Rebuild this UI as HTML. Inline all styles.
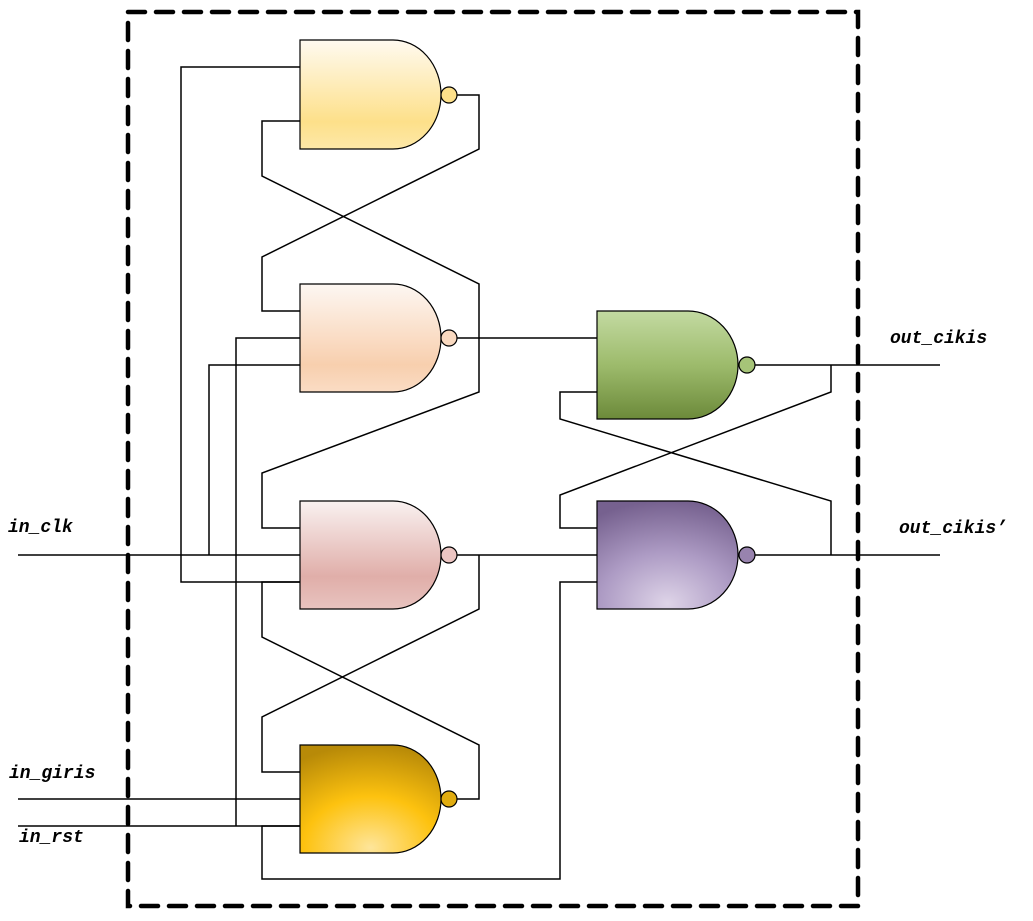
<!DOCTYPE html>
<html><head><meta charset="utf-8"><style>html,body{margin:0;padding:0;background:#fff;width:1033px;height:921px;overflow:hidden}</style></head>
<body>
<svg width="1033" height="921" viewBox="0 0 1033 921" xmlns="http://www.w3.org/2000/svg">
<defs>
<linearGradient id="g1" x1="0" y1="0" x2="0" y2="1"><stop offset="0" stop-color="#fffaf0"/><stop offset="0.75" stop-color="#fde08a"/><stop offset="1" stop-color="#fde8a8"/></linearGradient>
<linearGradient id="g2" x1="0" y1="0" x2="0" y2="1"><stop offset="0" stop-color="#fdf7f2"/><stop offset="0.75" stop-color="#f8cfae"/><stop offset="1" stop-color="#fadcc4"/></linearGradient>
<linearGradient id="g3" x1="0" y1="0" x2="0" y2="1"><stop offset="0" stop-color="#f9f1f0"/><stop offset="0.7" stop-color="#e0aea9"/><stop offset="1" stop-color="#e8c3bf"/></linearGradient>
<radialGradient id="g4" cx="0.5" cy="0.95" r="0.95" fx="0.5" fy="0.95"><stop offset="0" stop-color="#fee59a"/><stop offset="0.5" stop-color="#fdc20f"/><stop offset="1" stop-color="#b88a08"/></radialGradient>
<linearGradient id="g5" x1="0" y1="0" x2="0" y2="1"><stop offset="0" stop-color="#c3daa2"/><stop offset="0.5" stop-color="#9dbb6c"/><stop offset="1" stop-color="#6c8a3a"/></linearGradient>
<radialGradient id="g6" cx="0.5" cy="0.95" r="0.95" fx="0.5" fy="0.95"><stop offset="0" stop-color="#ded4e8"/><stop offset="0.5" stop-color="#ad9bc4"/><stop offset="1" stop-color="#76618f"/></radialGradient>
</defs>
<g fill="none" stroke="#000" stroke-width="1.5" stroke-linejoin="miter">
<!-- gate1 wiring -->
<polyline points="300,67 181,67 181,582 300,582"/>
<polyline points="300,121 262,121 262,176 479,284 479,392 262,473 262,528 300,528"/>
<polyline points="457,95 479,95 479,149 262,257 262,311 300,311"/>
<polyline points="457,338 597,338"/>
<polyline points="300,338 236,338 236,826"/>
<polyline points="300,365 209,365 209,555"/>
<polyline points="18,555 300,555"/>
<polyline points="457,555 597,555"/>
<polyline points="479,555 479,609 262,717 262,772 300,772"/>
<polyline points="300,582 262,582 262,637 479,745 479,799 457,799"/>
<polyline points="18,799 300,799"/>
<polyline points="18,826 300,826"/>
<polyline points="300,826 262,826 262,879 560,879 560,582 597,582"/>
<polyline points="597,528 560,528 560,495 831,392 831,365"/>
<polyline points="597,392 560,392 560,419 831,501 831,555"/>
<polyline points="755,365 940,365"/>
<polyline points="755,555 940,555"/>
</g>
<g stroke="#000" stroke-width="1.2">
<path d="M300,40 H393 A48,54.5 0 0 1 393,149 H300 Z" fill="url(#g1)"/>
<circle cx="449" cy="95" r="8" fill="#fde08a"/>
<path d="M300,284 H393 A48,54 0 0 1 393,392 H300 Z" fill="url(#g2)"/>
<circle cx="449" cy="338" r="8" fill="#f9d9c0"/>
<path d="M300,501 H393 A48,54 0 0 1 393,609 H300 Z" fill="url(#g3)"/>
<circle cx="449" cy="555" r="8" fill="#ecc5c2"/>
<path d="M300,745 H393 A48,54 0 0 1 393,853 H300 Z" fill="url(#g4)"/>
<circle cx="449" cy="799" r="8" fill="#e0ac10"/>
<path d="M597,311 H688 A50,54 0 0 1 688,419 H597 Z" fill="url(#g5)"/>
<circle cx="747" cy="365" r="8" fill="#a6c478"/>
<path d="M597,501 H688 A50,54 0 0 1 688,609 H597 Z" fill="url(#g6)"/>
<circle cx="747" cy="555" r="8" fill="#9883ae"/>
</g>
<rect x="128" y="12" width="730" height="894" fill="none" stroke="#000" stroke-width="4.5" stroke-dasharray="17,11" stroke-linecap="round"/>
<g font-family="'Liberation Mono', monospace" font-weight="bold" font-style="italic" font-size="18" fill="#000">
<text x="8" y="532">in_clk</text>
<text x="9" y="778">in_giris</text>
<text x="19" y="842">in_rst</text>
<text x="890" y="343">out_cikis</text>
<text x="899" y="533">out_cikis’</text>
</g>
</svg>
</body></html>
